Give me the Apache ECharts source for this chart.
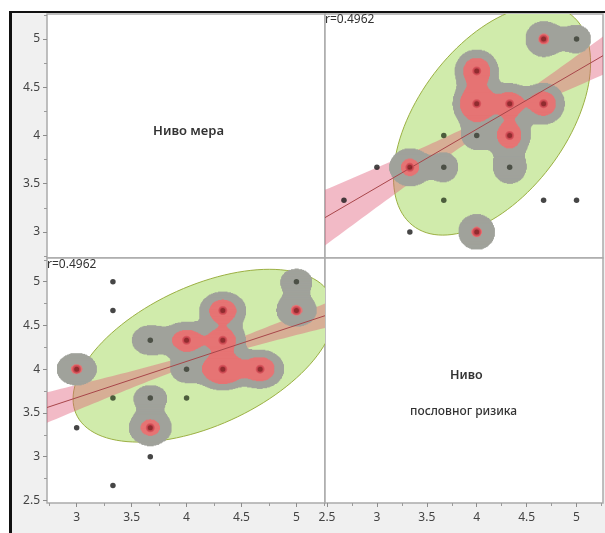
<!DOCTYPE html>
<html>
<head>
<meta charset="utf-8">
<script src="https://cdn.jsdelivr.net/npm/echarts@6/dist/echarts.min.js"></script>
<style>
  html, body { margin: 0; padding: 0; background: #fff; }
  #frame { position: absolute; left: 9px; top: 11px; width: 596px; height: 522px; background: #f0f0f0;
           border-left: 3px solid #111; border-top: 2px solid #111; box-sizing: border-box; }
  #chart { position: absolute; left: 0; top: 0; width: 605px; height: 533px; }
</style>
</head>
<body>
<div id="frame"></div>
<div id="chart"></div>
<script>
// survey answers (averaged scores), each pair drawn once, counts = how many respondents
const riskValues    = [4.67, 5, 4, 4, 4.33, 4.67, 4.33, 3.67, 4, 3, 3.33, 3.67, 4.33, 2.67, 3.67, 4.67, 5, 3.33, 4];
const measureValues = [5, 5, 4.67, 4.33, 4.33, 4.33, 4, 4, 4, 3.67, 3.67, 3.67, 3.67, 3.33, 3.33, 3.33, 3.33, 3, 3];
const counts        = [10, 6, 18, 27, 15, 16, 15, 1, 6, 1, 12, 6, 8, 1, 1, 1, 1, 1, 10];

const measureTicks = [3, 3.5, 4, 4.5, 5];
const measureMinor = [2.75, 3.25, 3.75, 4.25, 4.75, 5.25];
const riskTicks = [2.5, 3, 3.5, 4, 4.5, 5];
const riskMinor = [2.75, 3.25, 3.75, 4.25, 4.75, 5.25];

const corrLabel = 'r=0.4962';

const MEASURE_RANGE = [2.73, 5.26];
const RISK_RANGE_X = [2.48, 5.265];
const RISK_RANGE_Y = [2.47, 5.27];

const FONT = 'Noto Sans';
const CHI2 = 5.2;
const BW = 0.11;
const CELL = 0.008;
const T_GRAY = 2.7, T_RED = 9.15;
const GRAY = '#a0a29b', RED = '#e67474';

function wstats(xs, ys, w) {
  let n = 0, sx = 0, sy = 0;
  xs.forEach((x, i) => { n += w[i]; sx += w[i] * x; sy += w[i] * ys[i]; });
  const mx = sx / n, my = sy / n;
  let sxx = 0, syy = 0, sxy = 0;
  xs.forEach((x, i) => {
    sxx += w[i] * (x - mx) * (x - mx);
    syy += w[i] * (ys[i] - my) * (ys[i] - my);
    sxy += w[i] * (x - mx) * (ys[i] - my);
  });
  return { n, mx, my, sxx, syy, sxy };
}

function ellipsePoints(st) {
  const vx = st.sxx / (st.n - 1), vy = st.syy / (st.n - 1), c = st.sxy / (st.n - 1);
  const l11 = Math.sqrt(vx), l21 = c / l11, l22 = Math.sqrt(vy - l21 * l21);
  const k = Math.sqrt(CHI2);
  const pts = [];
  for (let i = 0; i <= 120; i++) {
    const t = i / 120 * Math.PI * 2;
    pts.push([st.mx + k * l11 * Math.cos(t), st.my + k * (l21 * Math.cos(t) + l22 * Math.sin(t))]);
  }
  return pts;
}

function insideEllipse(st, x, y) {
  const vx = st.sxx / (st.n - 1), vy = st.syy / (st.n - 1), c = st.sxy / (st.n - 1);
  const det = vx * vy - c * c;
  const dx = x - st.mx, dy = y - st.my;
  return (vy * dx * dx - 2 * c * dx * dy + vx * dy * dy) / det < CHI2;
}

function fitLine(st, xr) {
  const b = st.sxy / st.sxx;
  const f = x => st.my + b * (x - st.mx);
  return [[xr[0], f(xr[0])], [xr[1], f(xr[1])]];
}

function fitBand(st, xr) {
  const b = st.sxy / st.sxx;
  const s = Math.sqrt((st.syy - b * st.sxy) / (st.n - 2));
  const t = 1.98;
  const up = [], lo = [];
  for (let i = 0; i <= 60; i++) {
    const x = xr[0] + (xr[1] - xr[0]) * i / 60;
    const y = st.my + b * (x - st.mx);
    const h = t * s * Math.sqrt(1 / st.n + (x - st.mx) * (x - st.mx) / st.sxx);
    up.push([x, y + h]); lo.push([x, y - h]);
  }
  return up.concat(lo.reverse());
}

function density(xs, ys, x, y) {
  let d = 0;
  for (let i = 0; i < xs.length; i++) {
    const dx = x - xs[i], dy = y - ys[i];
    d += counts[i] * Math.exp(-(dx * dx + dy * dy) / (2 * BW * BW));
  }
  return d;
}

function levelAt(xs, ys, x, y) {
  const d = density(xs, ys, x, y);
  return d >= T_RED ? 2 : d >= T_GRAY ? 1 : 0;
}

function densityRuns(xs, ys, xr, yr) {
  const nx = Math.ceil((xr[1] - xr[0]) / CELL), ny = Math.ceil((yr[1] - yr[0]) / CELL);
  const grid = [];
  for (let j = 0; j < ny; j++) {
    const row = [];
    for (let i = 0; i < nx; i++) {
      row.push(levelAt(xs, ys, xr[0] + (i + 0.5) * CELL, yr[0] + (j + 0.5) * CELL));
    }
    grid.push(row);
  }
  const runs = [];
  [1, 2].forEach(lvl => {
    for (let j = 0; j < ny; j++) {
      let start = -1;
      for (let i = 0; i <= nx; i++) {
        const on = i < nx && grid[j][i] >= lvl;
        if (on && start < 0) start = i;
        if (!on && start >= 0) {
          runs.push([xr[0] + start * CELL, xr[0] + i * CELL, yr[0] + j * CELL, lvl]);
          start = -1;
        }
      }
    }
  });
  return runs;
}

function pointData(xs, ys, st) {
  return xs.map((x, i) => {
    const lvl = levelAt(xs, ys, x, ys[i]);
    if (lvl === 2) {
      return { value: [x, ys[i]], symbolSize: 7, itemStyle: { color: '#7a1a1e', borderColor: '#d44d58', borderWidth: 2 } };
    }
    const col = lvl === 1 ? '#373c31' : insideEllipse(st, x, ys[i]) ? '#2a3a20' : '#181818';
    return { value: [x, ys[i]], symbolSize: 5.5, itemStyle: { color: col } };
  });
}

function polygonSeries(pts, xi, yi, style, z) {
  return {
    type: 'custom', xAxisIndex: xi, yAxisIndex: yi, z: z, silent: true,
    data: [[pts[0][0], pts[0][1]]],
    renderItem: (params, api) => {
      const cs = params.coordSys;
      return {
        type: 'group',
        clipPath: { type: 'rect', shape: { x: cs.x, y: cs.y, width: cs.width, height: cs.height } },
        children: [{ type: 'polygon', shape: { points: pts.map(p => api.coord(p)) }, style: style }]
      };
    }
  };
}

function panelSeries(xs, ys, xr, yr, xi, yi) {
  const st = wstats(xs, ys, counts);
  return [
    polygonSeries(ellipsePoints(st), xi, yi, { fill: '#d0ebab', stroke: '#9cb043', lineWidth: 1 }, 1),
    polygonSeries(fitBand(st, xr), xi, yi, { fill: 'rgba(225,90,120,0.42)' }, 2),
    {
      type: 'custom', xAxisIndex: xi, yAxisIndex: yi, z: 3, silent: true,
      data: densityRuns(xs, ys, xr, yr),
      encode: { x: [0, 1], y: 2 },
      renderItem: (params, api) => {
        const a = api.coord([api.value(0), api.value(2) + CELL]);
        const b = api.coord([api.value(1), api.value(2)]);
        return {
          type: 'rect',
          shape: { x: a[0] - 0.3, y: a[1] - 0.7, width: b[0] - a[0] + 0.6, height: b[1] - a[1] + 1.4 },
          style: { fill: api.value(3) === 2 ? RED : GRAY }
        };
      }
    },
    {
      type: 'line', xAxisIndex: xi, yAxisIndex: yi, z: 4, silent: true,
      data: fitLine(st, xr), symbol: 'none',
      lineStyle: { color: '#a8464a', width: 1 }
    },
    {
      type: 'scatter', xAxisIndex: xi, yAxisIndex: yi, z: 5, silent: true,
      data: pointData(xs, ys, st)
    }
  ];
}

function hiddenAxis(gridIndex, range, extra) {
  return Object.assign({
    type: 'value', gridIndex: gridIndex, min: range[0], max: range[1],
    splitLine: { show: false }, axisLine: { show: false, onZero: false },
    axisTick: { show: false }, axisLabel: { show: false }
  }, extra);
}

function labelledAxis(gridIndex, range, ticks, position) {
  return hiddenAxis(gridIndex, range, {
    position: position,
    axisTick: { show: true, length: 4, customValues: ticks, lineStyle: { color: '#8c8c8c' } },
    axisLabel: { show: true, customValues: ticks, margin: position === 'bottom' ? 9 : 7, fontSize: 12, color: '#444', fontFamily: FONT }
  });
}

function minorAxis(gridIndex, range, ticks, position) {
  return hiddenAxis(gridIndex, range, {
    position: position,
    axisTick: { show: true, length: 3, customValues: ticks, lineStyle: { color: '#9a9a9a' } }
  });
}

const gridBox = { show: true, backgroundColor: '#fff', borderColor: '#aaaaaa', borderWidth: 1.5 };

const option = {
  backgroundColor: 'transparent',
  animation: false,
  grid: [
    Object.assign({ left: 47, top: 14, width: 278, height: 244 }, gridBox),
    Object.assign({ left: 325, top: 14, width: 278, height: 244 }, gridBox),
    Object.assign({ left: 47, top: 258, width: 278, height: 245 }, gridBox),
    Object.assign({ left: 325, top: 258, width: 278, height: 245 }, gridBox)
  ],
  xAxis: [
    hiddenAxis(0, MEASURE_RANGE),
    hiddenAxis(1, RISK_RANGE_X),
    labelledAxis(2, MEASURE_RANGE, measureTicks, 'bottom'),
    labelledAxis(3, RISK_RANGE_X, riskTicks, 'bottom'),
    minorAxis(2, MEASURE_RANGE, measureMinor, 'bottom'),
    minorAxis(3, RISK_RANGE_X, riskMinor, 'bottom')
  ],
  yAxis: [
    labelledAxis(0, MEASURE_RANGE, measureTicks, 'left'),
    hiddenAxis(1, MEASURE_RANGE),
    labelledAxis(2, RISK_RANGE_Y, riskTicks, 'left'),
    hiddenAxis(3, RISK_RANGE_Y),
    minorAxis(0, MEASURE_RANGE, measureMinor, 'left'),
    minorAxis(2, RISK_RANGE_Y, riskMinor, 'left')
  ],
  graphic: [
    { type: 'text', left: 153, top: 125, z: 10, style: { text: 'Ниво мера', font: '600 13px "Noto Sans"', fill: '#333' } },
    { type: 'text', left: 450, top: 369, z: 10, style: { text: 'Ниво', font: '600 12.5px "Noto Sans"', fill: '#333' } },
    { type: 'text', left: 410, top: 406, z: 10, style: { text: 'пословног ризика', font: '500 12px "Noto Sans"', fill: '#333' } },
    { type: 'text', left: 325, top: 14, z: 10, style: { text: corrLabel, font: '12px "Noto Sans"', fill: '#333' } },
    { type: 'text', left: 47, top: 259, z: 10, style: { text: corrLabel, font: '12px "Noto Sans"', fill: '#333' } }
  ],
  series: [].concat(
    panelSeries(riskValues, measureValues, RISK_RANGE_X, MEASURE_RANGE, 1, 1),
    panelSeries(measureValues, riskValues, MEASURE_RANGE, RISK_RANGE_Y, 2, 2)
  )
};

const chart = echarts.init(document.getElementById('chart'), null, { renderer: 'canvas', devicePixelRatio: 1 });
chart.setOption(option);
</script>
</body>
</html>
